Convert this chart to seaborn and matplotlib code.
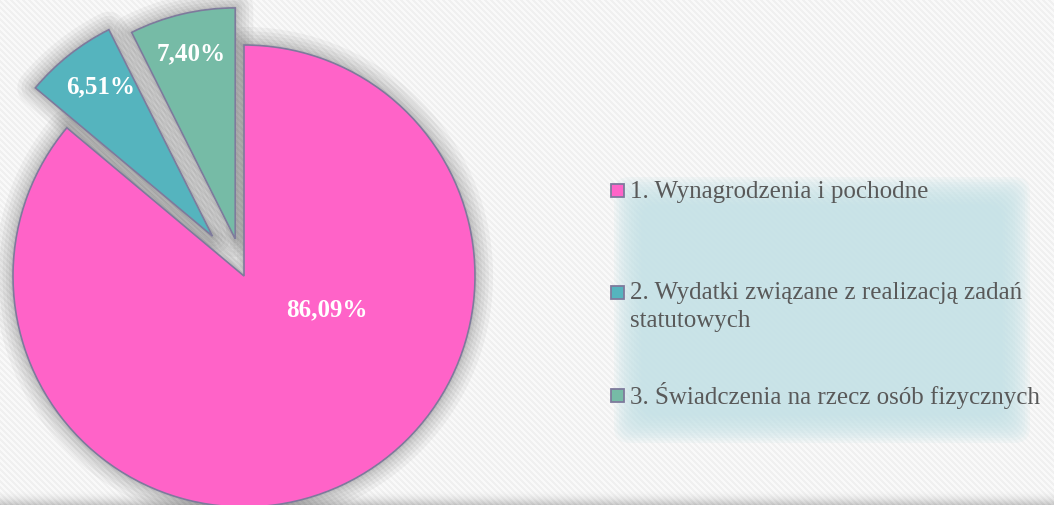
import numpy as np
import matplotlib
matplotlib.use("Agg")
import matplotlib.pyplot as plt
import matplotlib.patheffects as pe
from matplotlib.patches import FancyBboxPatch, Rectangle
import seaborn as sns

# ---- data ----
categories = [
    "1. Wynagrodzenia i pochodne",
    "2. Wydatki związane z realizacją zadań\nstatutowych",
    "3. Świadczenia na rzecz osób fizycznych",
]
shares = [86.09, 6.51, 7.40]
colors = ["#ff63c8", "#55b4be", "#76bba6"]
explode = [0.0, 0.22, 0.165]

sns.set_theme(style="white")
plt.rcParams["font.family"] = ["Liberation Serif", "DejaVu Serif"]

W, H = 1054, 506
fig = plt.figure(figsize=(W / 100, H / 100), dpi=100)

# ---- striped background ----
bg = fig.add_axes([0, 0, 1, 1], zorder=0)
bg.set_axis_off()
yy, xx = np.mgrid[0:H, 0:W]
stripe = ((xx - yy) % 6) < 3
img = np.where(stripe, 0.975, 0.94)
grad = np.clip((yy - 490) / 16.0, 0, 1)
img = img - 0.2 * grad ** 2
bg.imshow(img, cmap="gray", vmin=0, vmax=1, aspect="auto",
          interpolation="nearest", extent=[0, W, H, 0])
bg.set_xlim(0, W)
bg.set_ylim(H, 0)

# ---- pie ----
cx, cy, R = 244, 277, 231
ax = fig.add_axes([0, 0, 1, 1], zorder=2)
ax.patch.set_alpha(0)

shadow, _ = ax.pie(shares, explode=explode, startangle=90, counterclock=False,
                   colors=["#9a9a9a"] * 3, wedgeprops=dict(linewidth=0))
for w in shadow:
    w.set_path_effects([pe.Stroke(linewidth=lw, foreground="#000000", alpha=0.04,
                                  joinstyle="round")
                        for lw in (26, 20, 15, 10, 6, 3)])

wedges, texts, autotexts = ax.pie(
    shares, explode=explode, startangle=90, counterclock=False, colors=colors,
    autopct=lambda p: f"{p:.2f}%".replace(".", ","), pctdistance=0.83,
    wedgeprops=dict(edgecolor="#7e7a9c", linewidth=1.2),
    textprops=dict(color="white", fontweight="bold", fontsize=18),
)
autotexts[0].set_position((0.36, -0.14))
tx, ty = autotexts[1].get_position()
autotexts[1].set_position((tx + 0.03, ty))
for t in autotexts:
    t.set_ha("center")
    t.set_va("center")

ax.set_xlim(-cx / R, (W - cx) / R)
ax.set_ylim(-(H - cy) / R, cy / R)
ax.set_aspect("auto")
ax.set_axis_off()

# ---- legend (pixel-coordinate overlay) ----
lg = fig.add_axes([0, 0, 1, 1], zorder=1)
lg.set_xlim(0, W)
lg.set_ylim(H, 0)
lg.set_axis_off()
lg.patch.set_alpha(0)

x0, y0, x1, y1 = 614, 178, 1030, 444
for k in range(12):
    ins = 2.5 * k
    lg.add_patch(FancyBboxPatch((x0 + ins, y0 + ins), (x1 - x0) - 2 * ins,
                                (y1 - y0) - 2 * ins,
                                boxstyle="round,pad=0,rounding_size=16",
                                facecolor="#c3e2e7", edgecolor="none", alpha=0.14))

marker_y = [191.5, 293.5, 396]
for lab, col, my in zip(categories, colors, marker_y):
    lg.add_patch(Rectangle((611, my - 6.5), 13, 13, facecolor=col,
                           edgecolor="#7e7a9c", linewidth=1.3))
    for j, line in enumerate(lab.split("\n")):
        lg.text(630, my + 27 * j, line, ha="left", va="center",
                fontsize=18, color="#595959")

fig.savefig("out.png", dpi=100)
